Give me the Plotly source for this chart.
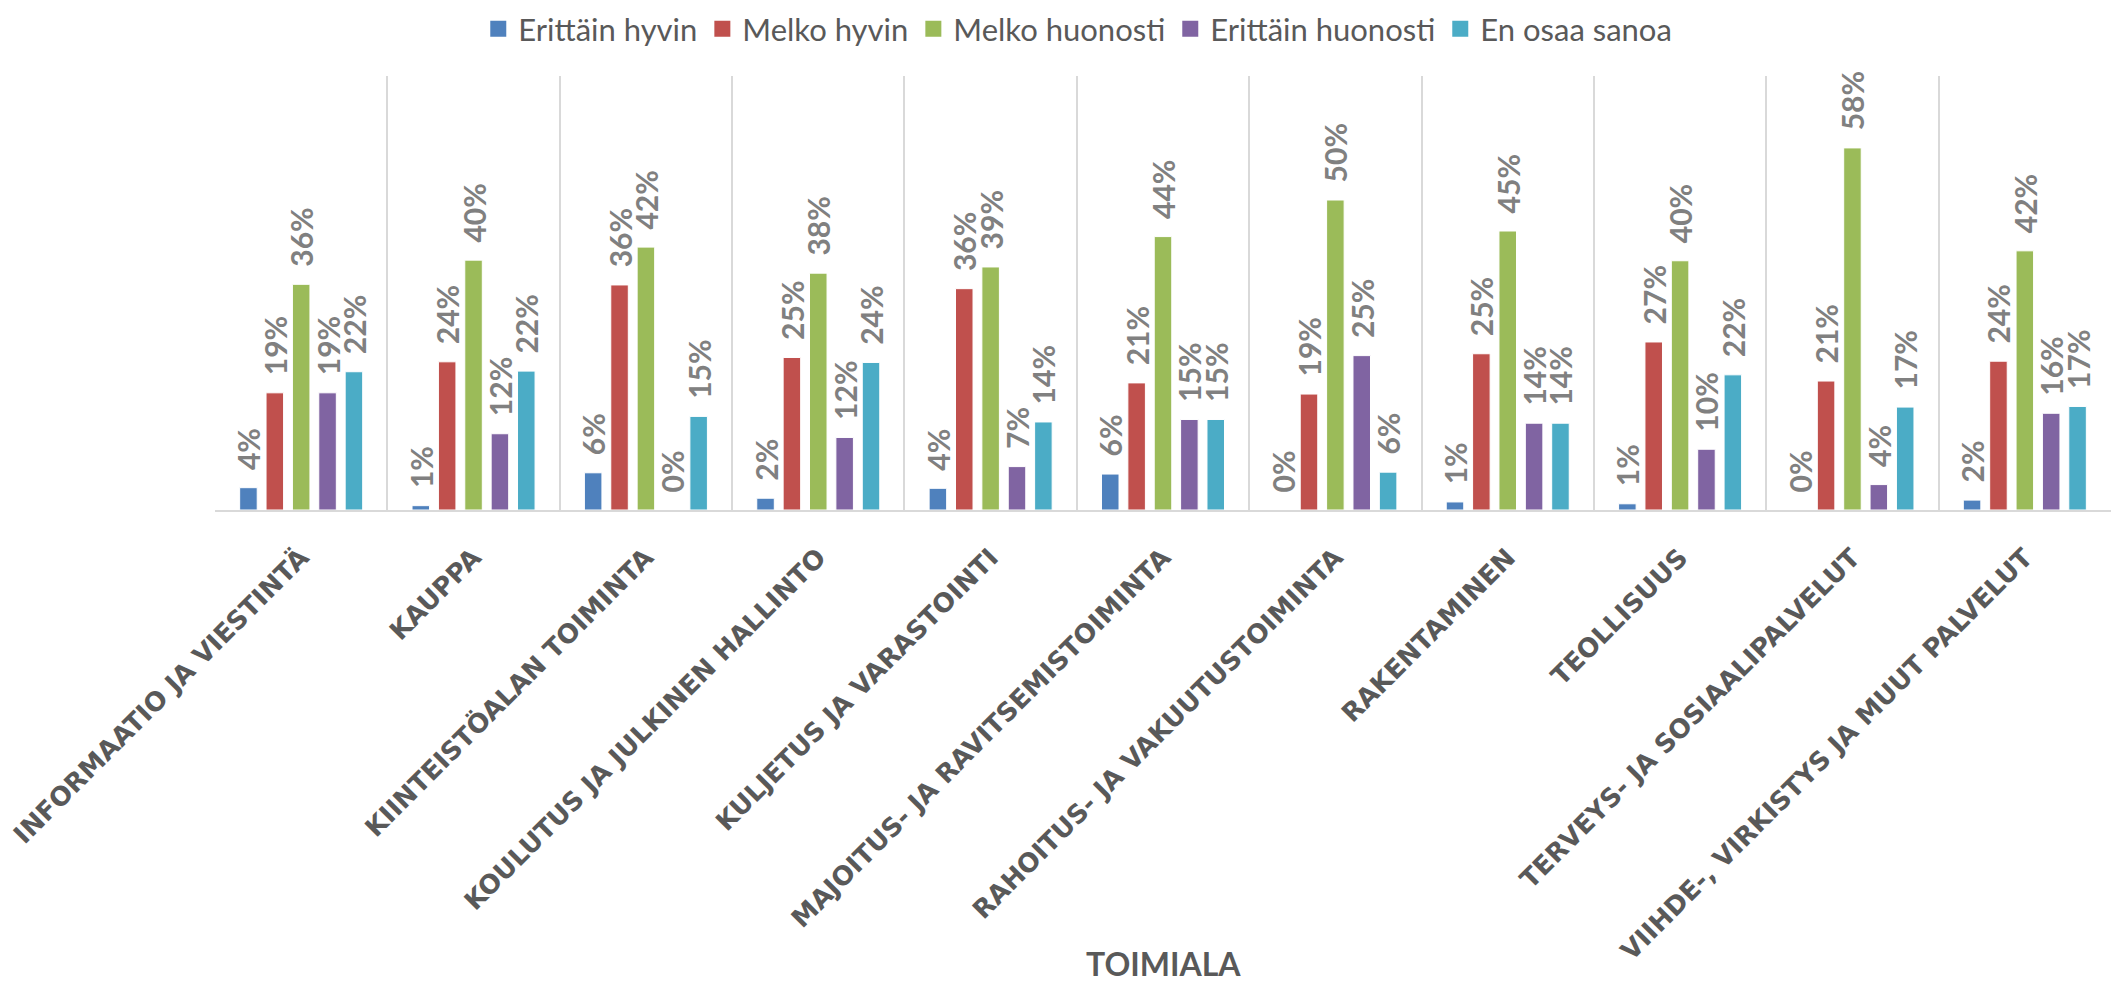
import plotly.graph_objects as go

categories = [
    "INFORMAATIO JA VIESTINTÄ",
    "KAUPPA",
    "KIINTEISTÖALAN TOIMINTA",
    "KOULUTUS JA JULKINEN HALLINTO",
    "KULJETUS JA VARASTOINTI",
    "MAJOITUS- JA RAVITSEMISTOIMINTA",
    "RAHOITUS- JA VAKUUTUSTOIMINTA",
    "RAKENTAMINEN",
    "TEOLLISUUS",
    "TERVEYS- JA SOSIAALIPALVELUT",
    "VIIHDE-, VIRKISTYS JA MUUT PALVELUT",
]

series_names = ["Erittäin hyvin", "Melko hyvin", "Melko huonosti", "Erittäin huonosti", "En osaa sanoa"]

erittain_hyvin = [0.036, 0.007, 0.060, 0.019, 0.035, 0.058, 0.000, 0.013, 0.010, 0.000, 0.016]
melko_hyvin = [0.189, 0.239, 0.363, 0.246, 0.357, 0.205, 0.187, 0.252, 0.271, 0.208, 0.240]
melko_huonosti = [0.364, 0.403, 0.424, 0.382, 0.392, 0.441, 0.500, 0.450, 0.402, 0.584, 0.418]
erittain_huonosti = [0.189, 0.123, 0.000, 0.117, 0.070, 0.146, 0.249, 0.140, 0.098, 0.041, 0.156]
en_osaa_sanoa = [0.223, 0.224, 0.151, 0.238, 0.142, 0.146, 0.061, 0.140, 0.218, 0.166, 0.167]

series_values = [erittain_hyvin, melko_hyvin, melko_huonosti, erittain_huonosti, en_osaa_sanoa]
colors = ["#4F81BD", "#C0504D", "#9BBB59", "#8064A2", "#4BACC6"]

fig = go.Figure()
for name, vals, col in zip(series_names, series_values, colors):
    fig.add_trace(go.Bar(
        x=categories,
        y=vals,
        name=name,
        legendgroup=name,
        showlegend=False,
        marker=dict(color=col, line=dict(color="white", width=1)),
        texttemplate="\u00a0\u00a0%{y:.0%}",
        textposition="outside",
        textangle=-90,
        constraintext="none",
        cliponaxis=False,
        textfont=dict(family="Lato", size=30, color="#808080", weight="bold"),
    ))

# legend entries (larger square swatches, like the original)
for name, col in zip(series_names, colors):
    fig.add_trace(go.Scatter(
        x=[None], y=[None],
        mode="markers",
        name=name,
        legendgroup=name,
        showlegend=True,
        marker=dict(symbol="square", size=16, color=col),
        hoverinfo="skip",
    ))

fig.update_layout(
    width=2110,
    height=979,
    margin=dict(l=207, r=7, t=68, b=477),
    paper_bgcolor="white",
    plot_bgcolor="white",
    barmode="group",
    bargap=0.235,
    bargroupgap=0.335,
    showlegend=True,
    legend=dict(
        orientation="h",
        xref="container",
        yref="container",
        x=0.507,
        xanchor="center",
        y=1 - 21 / 979,
        yanchor="middle",
        itemsizing="trace",
        font=dict(family="Lato", size=31, color="#595959"),
        itemclick=False,
    ),
    xaxis=dict(
        type="category",
        tickson="boundaries",
        showgrid=True,
        gridcolor="#D9D9D9",
        gridwidth=1.5,
        showline=True,
        linecolor="#D9D9D9",
        linewidth=2,
        ticks="",
        tickangle=-45,
        tickfont=dict(family="DejaVu Sans", size=26, color="#595959", weight="bold"),
        automargin=False,
        ticklabelstandoff=20,
    ),
    yaxis=dict(
        range=[0, 0.7],
        showgrid=False,
        showticklabels=False,
        zeroline=False,
        showline=False,
        ticks="",
    ),
    annotations=[dict(
        text="TOIMIALA",
        xref="paper", yref="paper",
        x=0.5, y=-1.045,
        xanchor="center", yanchor="middle",
        showarrow=False,
        font=dict(family="Lato", size=32, color="#595959", weight="bold"),
    )],
)

fig.write_html("out.html")
